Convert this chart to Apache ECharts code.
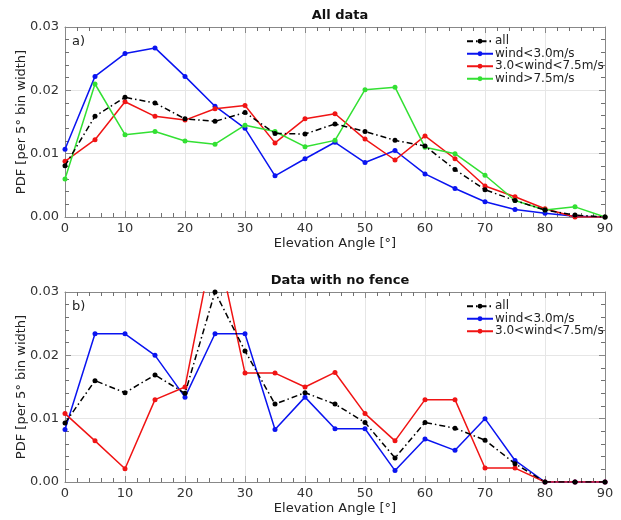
<!DOCTYPE html>
<html>
<head>
<meta charset="utf-8">
<script src="https://cdn.jsdelivr.net/npm/echarts@6/dist/echarts.min.js"></script>
<style>
  html, body { margin: 0; padding: 0; background: #fff; }
  #chart { width: 621px; height: 520px; }
</style>
</head>
<body>
<div id="chart"></div>
<script>
// elevation angle bins (deg)
var angles = [0, 5, 10, 15, 20, 25, 30, 35, 40, 45, 50, 55, 60, 65, 70, 75, 80, 85, 90];

// a) All data
var allA    = [0.0081, 0.0159, 0.0189, 0.0180, 0.0155, 0.0151, 0.0165, 0.0132, 0.0131, 0.0147, 0.0135, 0.0121, 0.0112, 0.0075, 0.0043, 0.0026, 0.0011, 0.0003, 0.0];
var lowA    = [0.0107, 0.0222, 0.0258, 0.0267, 0.0222, 0.0175, 0.0140, 0.0065, 0.0092, 0.0118, 0.0086, 0.0105, 0.0068, 0.0045, 0.0024, 0.0012, 0.0006, 0.0001, 0.0];
var midA    = [0.0088, 0.0122, 0.0182, 0.0159, 0.0153, 0.0171, 0.0176, 0.0117, 0.0155, 0.0163, 0.0123, 0.0090, 0.0128, 0.0092, 0.0049, 0.0032, 0.0013, 0.0, 0.0];
var highA   = [0.0060, 0.0210, 0.0130, 0.0135, 0.0120, 0.0115, 0.0145, 0.0135, 0.0111, 0.0121, 0.0201, 0.0205, 0.0110, 0.0100, 0.0066, 0.0026, 0.0011, 0.0016, 0.0];

// b) Data with no fence
var allB    = [0.0093, 0.0160, 0.0141, 0.0169, 0.0140, 0.0300, 0.0207, 0.0123, 0.0141, 0.0123, 0.0094, 0.0038, 0.0094, 0.0085, 0.0066, 0.0029, 0.0, 0.0, 0.0];
var lowB    = [0.0083, 0.0234, 0.0234, 0.0200, 0.0134, 0.0234, 0.0234, 0.0083, 0.0134, 0.0084, 0.0084, 0.0018, 0.0068, 0.0050, 0.0100, 0.0034, 0.0, 0.0, 0.0];
var midB    = [0.0108, 0.0065, 0.0021, 0.0130, 0.0150, 0.0390, 0.0172, 0.0172, 0.0150, 0.0173, 0.0108, 0.0065, 0.0130, 0.0130, 0.0022, 0.0022, 0.0, 0.0, 0.0];

var names = ['all', 'wind<3.0m/s', '3.0<wind<7.5m/s', 'wind>7.5m/s'];
var colors = ['#000000', '#0a14f0', '#f01414', '#33e033'];

function pairs(vals) {
  return angles.map(function (a, i) { return [a, vals[i]]; });
}

var font = 'DejaVu Sans';
var frameColor = '#888888';

function xAx(grid, pos) {
  var main = pos === 'bottom';
  return {
    type: 'value', gridIndex: grid, position: pos, min: 0, max: 90, interval: 10,
    name: main ? 'Elevation Angle [°]' : '', nameLocation: 'middle', nameGap: 20,
    nameMoveOverlap: false,
    nameTextStyle: { fontFamily: font, fontSize: 13, color: '#222' },
    axisLine: { show: true, onZero: false, lineStyle: { color: frameColor } },
    axisTick: { show: true, inside: true, length: 6, lineStyle: { color: frameColor } },
    minorTick: { show: true, splitNumber: 5, length: 4, lineStyle: { color: '#707070', width: 1 } },
    axisLabel: { show: main, fontFamily: font, fontSize: 13, color: '#333', margin: 5 },
    splitLine: { show: main, lineStyle: { color: '#e6e6e6' } }
  };
}

function yAx(grid, pos) {
  var main = pos === 'left';
  return {
    type: 'value', gridIndex: grid, position: pos, min: 0, max: 0.03, interval: 0.01,
    name: main ? 'PDF [per 5° bin width]' : '', nameLocation: 'middle', nameGap: 37,
    nameRotate: 90, nameMoveOverlap: false,
    nameTextStyle: { fontFamily: font, fontSize: 13, color: '#222' },
    axisLine: { show: true, onZero: false, lineStyle: { color: frameColor } },
    axisTick: { show: true, inside: true, length: 6, lineStyle: { color: frameColor } },
    minorTick: { show: true, splitNumber: 5, length: 4, lineStyle: { color: '#707070', width: 1 } },
    axisLabel: { show: main, fontFamily: font, fontSize: 13, color: '#333', margin: 6,
      formatter: function (v) { return v.toFixed(2); } },
    splitLine: { show: main, lineStyle: { color: '#e6e6e6' } }
  };
}

function line(idx, vals, xi, yi) {
  return {
    name: names[idx], type: 'line', xAxisIndex: xi, yAxisIndex: yi,
    data: pairs(vals), symbol: 'circle', symbolSize: 5,
    itemStyle: { color: colors[idx] },
    lineStyle: { color: colors[idx], width: 1.5, type: idx === 0 ? [6, 3, 1.5, 3] : 'solid' },
    z: idx === 0 ? 5 : 3,
    animation: false
  };
}

var legendCommon = {
  orient: 'vertical', left: 466, itemWidth: 26, itemHeight: 6, itemGap: 0,
  padding: 0, selectedMode: false, align: 'left',
  textStyle: { fontFamily: font, fontSize: 12, lineHeight: 12.5, color: '#222', padding: [0, 0, 0, -3] }
};

var chart = echarts.init(document.getElementById('chart'));
chart.setOption({
  animation: false,
  title: [
    { text: 'All data', left: 335, top: 4, textAlign: 'center',
      textStyle: { fontFamily: font, fontSize: 13, fontWeight: 'bold', color: '#111' } },
    { text: 'Data with no fence', left: 335, top: 269, textAlign: 'center',
      textStyle: { fontFamily: font, fontSize: 13, fontWeight: 'bold', color: '#111' } }
  ],
  grid: [
    { left: 65, right: 16, top: 27, height: 190, outerBoundsMode: 'none' },
    { left: 65, right: 16, top: 292, height: 190, outerBoundsMode: 'none' }
  ],
  xAxis: [xAx(0, 'bottom'), xAx(0, 'top'), xAx(1, 'bottom'), xAx(1, 'top')],
  yAxis: [yAx(0, 'left'), yAx(0, 'right'), yAx(1, 'left'), yAx(1, 'right')],
  legend: [
    Object.assign({}, legendCommon, { top: 35, data: names.slice(0, 4) }),
    Object.assign({}, legendCommon, { top: 300, data: names.slice(0, 3) })
  ],
  graphic: [
    { type: 'text', left: 72, top: 35, style: { text: 'a)', fontFamily: font, fontSize: 13, fill: '#222' } },
    { type: 'text', left: 72, top: 300, style: { text: 'b)', fontFamily: font, fontSize: 13, fill: '#222' } }
  ],
  series: [
    line(1, lowA, 0, 0), line(2, midA, 0, 0), line(3, highA, 0, 0), line(0, allA, 0, 0),
    line(1, lowB, 2, 2), line(2, midB, 2, 2), line(0, allB, 2, 2)
  ]
});
</script>
</body>
</html>
